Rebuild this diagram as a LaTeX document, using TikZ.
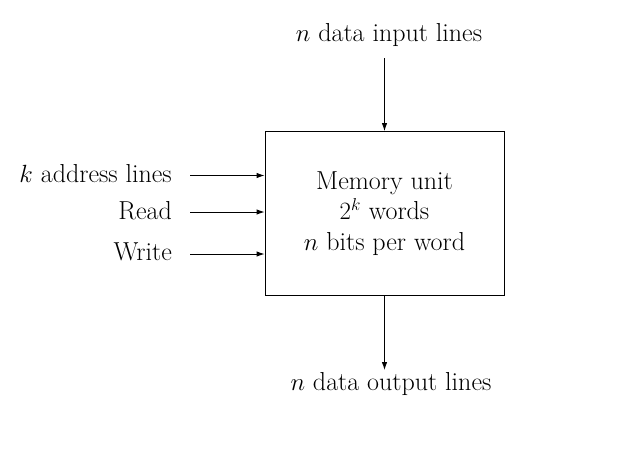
\documentclass[tikz,border=0pt]{standalone}
\usetikzlibrary{arrows.meta}
\begin{document}
\begin{tikzpicture}[x=1pt,y=-1pt,
  txt/.style={font=\fontsize{26}{30.5}\selectfont, inner sep=0pt},
  conn/.style={line width=0.9pt, -{Latex[length=8pt,width=5.5pt]}}]
\useasboundingbox (0,0) rectangle (642,448);
\node[draw, line width=0.9pt, minimum width=239pt, minimum height=164pt, align=center, txt]
  (mem) at (384.5,213.5) {Memory unit\\$2^k$ words\\$n$ bits per word};
\node[txt, anchor=base] (in) at (389,41.5) {$n$ data input lines};
\node[txt, anchor=base] (out) at (391,390) {$n$ data output lines};
\node[txt, anchor=base east] (addr) at (172,182) {$k$ address lines};
\node[txt, anchor=base east] (rd) at (172,219.5) {Read};
\node[txt, anchor=base east] (wr) at (172,260.5) {Write};
\coordinate (inS) at (384.5,58);
\coordinate (outE) at (384.5,370);
\coordinate (a0) at (190,175.5);
\coordinate (r0) at (190,212);
\coordinate (w0) at (190,254);
\draw[conn] (inS) -- (mem.north);
\draw[conn] (mem.south) -- (outE);
\draw[conn] (a0) -- (a0 -| mem.west);
\draw[conn] (r0) -- (r0 -| mem.west);
\draw[conn] (w0) -- (w0 -| mem.west);
\end{tikzpicture}
\end{document}
